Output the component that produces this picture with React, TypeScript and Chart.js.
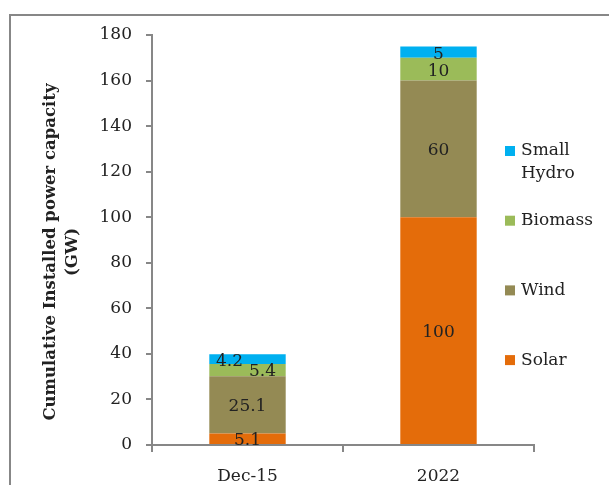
import React, { useEffect, useRef } from "react";
import { Chart, registerables } from "chart.js";

Chart.register(...registerables);

const categories = ["Dec-15", "2022"];
const seriesNames = ["Solar", "Wind", "Biomass", "Small Hydro"];
const solar = [5.1, 100];
const wind = [25.1, 60];
const biomass = [5.4, 10];
const smallHydro = [4.2, 5];
const yTicks = [0, 20, 40, 60, 80, 100, 120, 140, 160, 180];
const yTitle = ["Cumulative Installed power capacity", "(GW)"];

const colors = ["#E46C0A", "#948A54", "#9BBB59", "#00B0F0"];
const legendLines = [["Solar"], ["Wind"], ["Biomass"], ["Small", "Hydro"]];
// horizontal nudges for crowded labels [dataset][category]
const labelShift = [
  [0, 0],
  [0, 0],
  [15, 0],
  [-18, 0],
];

const FONT = "'DejaVu Serif', serif";
const TEXT = "#222222";
const AXIS = "#878787";

const framePlugin = {
  id: "frame",
  beforeDraw(chart: any) {
    const ctx = chart.ctx;
    ctx.save();
    ctx.strokeStyle = AXIS;
    ctx.lineWidth = 2;
    ctx.beginPath();
    ctx.moveTo(10, 485);
    ctx.lineTo(10, 15);
    ctx.lineTo(609, 15);
    ctx.stroke();
    ctx.restore();
  },
};

const titlePlugin = {
  id: "ytitle",
  afterDraw(chart: any) {
    const ctx = chart.ctx;
    ctx.save();
    ctx.fillStyle = TEXT;
    ctx.font = "bold 16.5px " + FONT;
    ctx.textAlign = "center";
    ctx.textBaseline = "middle";
    const cy = 252;
    yTitle.forEach((t, i) => {
      ctx.save();
      ctx.translate(51 + i * 22, cy);
      ctx.rotate(-Math.PI / 2);
      ctx.fillText(t, 0, 0);
      ctx.restore();
    });
    ctx.restore();
  },
};

const labelPlugin = {
  id: "barlabels",
  afterDatasetsDraw(chart: any) {
    const ctx = chart.ctx;
    ctx.save();
    ctx.fillStyle = TEXT;
    ctx.font = "17px " + FONT;
    ctx.textAlign = "center";
    ctx.textBaseline = "middle";
    chart.data.datasets.forEach((ds: any, di: number) => {
      const meta = chart.getDatasetMeta(di);
      meta.data.forEach((el: any, i: number) => {
        const p = el.getProps(["x", "y", "base"], true);
        const y = (p.y + p.base) / 2 + 2;
        ctx.fillText(String(ds.data[i]), p.x + labelShift[di][i], y);
      });
    });
    ctx.restore();
  },
};

const legendPlugin = {
  id: "customLegend",
  afterDraw(chart: any) {
    const ctx = chart.ctx;
    ctx.save();
    ctx.font = "17px " + FONT;
    ctx.textBaseline = "middle";
    ctx.textAlign = "left";
    const n = chart.data.datasets.length;
    for (let k = 0; k < n; k++) {
      const di = n - 1 - k;
      const ds = chart.data.datasets[di];
      const y = 151 + k * 69.7;
      ctx.fillStyle = ds.backgroundColor;
      ctx.fillRect(505, y - 5, 10, 10);
      ctx.fillStyle = TEXT;
      legendLines[di].forEach((line, li) => {
        ctx.fillText(line, 521, y + li * 23);
      });
    }
    ctx.restore();
  },
};

export default function App() {
  const ref = useRef<HTMLCanvasElement>(null);
  useEffect(() => {
    if (!ref.current) return;
    const series = [solar, wind, biomass, smallHydro];
    const chart = new Chart(ref.current, {
      type: "bar",
      data: {
        labels: categories,
        datasets: series.map((d, i) => ({
          label: seriesNames[i],
          data: d,
          backgroundColor: colors[i],
          borderWidth: 0,
          categoryPercentage: 1,
          barPercentage: 0.4,
        })),
      },
      options: {
        animation: false,
        responsive: false,
        maintainAspectRatio: false,
        layout: { padding: { left: 40, right: 75, top: 35, bottom: 0 } },
        plugins: {
          legend: { display: false },
          tooltip: { enabled: false },
        },
        scales: {
          x: {
            stacked: true,
            grid: {
              display: true,
              drawOnChartArea: false,
              drawTicks: true,
              tickLength: 7,
              color: AXIS,
              lineWidth: 2,
              offset: true,
            },
            border: { display: true, color: AXIS, width: 2 },
            ticks: {
              color: TEXT,
              font: { family: FONT, size: 17 },
              padding: 14,
              maxRotation: 0,
            },
            afterFit(scale: any) {
              scale.height = 40;
            },
          },
          y: {
            stacked: true,
            min: 0,
            max: 180,
            afterBuildTicks(scale: any) {
              scale.ticks = yTicks.map((v) => ({ value: v }));
            },
            grid: {
              display: true,
              drawOnChartArea: false,
              drawTicks: true,
              tickLength: 6,
              color: AXIS,
              lineWidth: 2,
            },
            border: { display: true, color: AXIS, width: 2 },
            ticks: {
              color: TEXT,
              font: { family: FONT, size: 17 },
              padding: 14,
            },
            afterFit(scale: any) {
              scale.width = 112;
            },
          },
        },
      },
      plugins: [framePlugin, titlePlugin, labelPlugin, legendPlugin],
    });
    return () => chart.destroy();
  }, []);
  return (
    <div style={{ position: "fixed", left: 0, top: 0, width: 609, height: 485, background: "#fff" }}>
      <canvas ref={ref} width={609} height={485} style={{ display: "block" }} />
    </div>
  );
}
